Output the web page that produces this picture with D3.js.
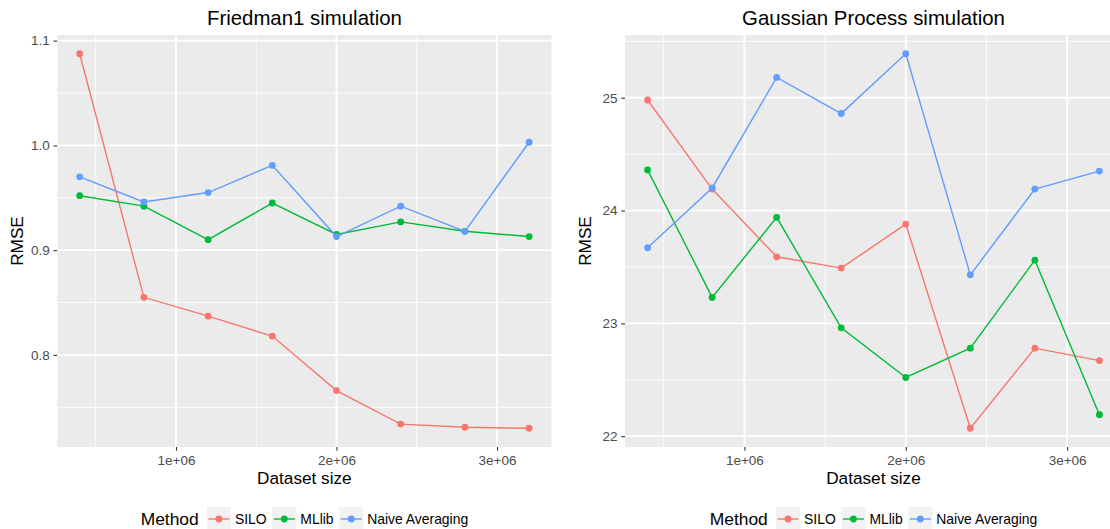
<!DOCTYPE html>
<html>
<head>
<meta charset="utf-8">
<script src="https://cdn.jsdelivr.net/npm/d3@7"></script>
<style>
  body { margin: 0; background: #fff; }
  svg { display: block; font-family: 'Liberation Sans', Arial, sans-serif; }
</style>
</head>
<body>
<div id="svg-container"></div>
<script>
const datasetSizes = [4e5, 8e5, 1.2e6, 1.6e6, 2e6, 2.4e6, 2.8e6, 3.2e6]
const methods = ['SILO', 'MLlib', 'Naive Averaging']
const methodColors = ['#F8766D', '#00BA38', '#619CFF']

const friedmanSilo = [1.0875, 0.855, 0.837, 0.818, 0.766, 0.734, 0.731, 0.730]
const friedmanMllib = [0.952, 0.942, 0.910, 0.945, 0.915, 0.927, 0.918, 0.913]
const friedmanNaive = [0.970, 0.946, 0.955, 0.981, 0.913, 0.942, 0.918, 1.003]

const gaussianSilo = [24.98, 24.19, 23.59, 23.49, 23.88, 22.07, 22.78, 22.67]
const gaussianMllib = [24.36, 23.23, 23.94, 22.96, 22.52, 22.78, 23.56, 22.19]
const gaussianNaive = [23.67, 24.20, 25.18, 24.86, 25.39, 23.43, 24.19, 24.35]

const xTicks = [1e6, 2e6, 3e6]
const friedmanTicks = [0.8, 0.9, 1.0, 1.1]
const gaussianTicks = [22, 23, 24, 25]

const svgWidth = 1110
const svgHeight = 529
const panelTop = 35
const panelBottom = 447

const fontTitle = '20.4px'
const fontAxisTitle = '17.2px'
const fontTick = '13.5px'
const fontLegendTitle = '17.4px'
const fontLegendText = '13.9px'

const svg = d3
  .select('#svg-container')
  .append('svg')
  .attr('width', svgWidth)
  .attr('height', svgHeight)

// ggplot style: expand continuous ranges by 5% on each side
const expand = ext => {
  const pad = (ext[1] - ext[0]) * 0.05
  return [ext[0] - pad, ext[1] + pad]
}

const midpoints = (ticks, domain) => {
  const step = ticks[1] - ticks[0]
  const out = []
  for (let v = ticks[0] - step / 2; v <= domain[1]; v += step) {
    if (v >= domain[0]) out.push(v)
  }
  return out
}

const drawPanel = ({ title, series, yTicks, yFormat, left, right }) => {
  const g = svg.append('g')
  const xScale = d3
    .scaleLinear()
    .domain(expand(d3.extent(datasetSizes)))
    .range([left, right])
  const yScale = d3
    .scaleLinear()
    .domain(expand(d3.extent(series.flat())))
    .range([panelBottom, panelTop])

  const clipId = `clip-${Math.round(left)}`
  g.append('clipPath')
    .attr('id', clipId)
    .append('rect')
    .attr('x', left)
    .attr('y', panelTop)
    .attr('width', right - left)
    .attr('height', panelBottom - panelTop)

  const plot = g.append('g').attr('clip-path', `url(#${clipId})`)
  plot
    .append('rect')
    .attr('x', left)
    .attr('y', panelTop)
    .attr('width', right - left)
    .attr('height', panelBottom - panelTop)
    .attr('fill', '#EBEBEB')

  // minor grid
  plot
    .selectAll('.minor-x')
    .data(midpoints(xTicks, xScale.domain()))
    .join('line')
    .attr('x1', d => xScale(d))
    .attr('x2', d => xScale(d))
    .attr('y1', panelTop)
    .attr('y2', panelBottom)
    .attr('stroke', '#fff')
    .attr('stroke-width', 0.9)
  plot
    .selectAll('.minor-y')
    .data(midpoints(yTicks, yScale.domain()))
    .join('line')
    .attr('y1', d => yScale(d))
    .attr('y2', d => yScale(d))
    .attr('x1', left)
    .attr('x2', right)
    .attr('stroke', '#fff')
    .attr('stroke-width', 0.9)

  // major grid
  plot
    .selectAll('.major-x')
    .data(xTicks)
    .join('line')
    .attr('x1', d => xScale(d))
    .attr('x2', d => xScale(d))
    .attr('y1', panelTop)
    .attr('y2', panelBottom)
    .attr('stroke', '#fff')
    .attr('stroke-width', 1.8)
  plot
    .selectAll('.major-y')
    .data(yTicks)
    .join('line')
    .attr('y1', d => yScale(d))
    .attr('y2', d => yScale(d))
    .attr('x1', left)
    .attr('x2', right)
    .attr('stroke', '#fff')
    .attr('stroke-width', 1.8)

  // axes
  const xAxis = g
    .append('g')
    .attr('transform', `translate(0, ${panelBottom})`)
    .call(
      d3
        .axisBottom(xScale)
        .tickValues(xTicks)
        .tickSize(3.7)
        .tickPadding(5)
        .tickFormat(d => `${d / 1e6}e+06`),
    )
  const yAxis = g
    .append('g')
    .attr('transform', `translate(${left}, 0)`)
    .call(
      d3
        .axisLeft(yScale)
        .tickValues(yTicks)
        .tickSize(3.7)
        .tickPadding(3.8)
        .tickFormat(yFormat),
    )
  ;[xAxis, yAxis].forEach(ax => {
    ax.select('.domain').remove()
    ax.selectAll('.tick line').attr('stroke', '#333').attr('stroke-width', 1.1)
    ax.selectAll('.tick text')
      .attr('fill', '#4D4D4D')
      .style('font-size', fontTick)
      .style('font-family', "'Liberation Sans', Arial, sans-serif")
  })

  // lines and points
  const line = d3
    .line()
    .x((d, i) => xScale(datasetSizes[i]))
    .y(d => yScale(d))
  series.forEach((values, k) => {
    plot
      .append('path')
      .attr('d', line(values))
      .attr('fill', 'none')
      .attr('stroke', methodColors[k])
      .attr('stroke-width', 1.4)
    plot
      .append('g')
      .selectAll('circle')
      .data(values)
      .join('circle')
      .attr('cx', (d, i) => xScale(datasetSizes[i]))
      .attr('cy', d => yScale(d))
      .attr('r', 3.4)
      .attr('fill', methodColors[k])
  })

  const centerX = (left + right) / 2

  g.append('text')
    .attr('x', centerX)
    .attr('y', 25)
    .attr('text-anchor', 'middle')
    .style('font-size', fontTitle)
    .text(title)

  g.append('text')
    .attr('x', centerX)
    .attr('y', 483.5)
    .attr('text-anchor', 'middle')
    .style('font-size', fontAxisTitle)
    .text('Dataset size')

  g.append('text')
    .attr('transform', `translate(${left - 34}, ${(panelTop + panelBottom) / 2}) rotate(-90)`)
    .attr('text-anchor', 'middle')
    .style('font-size', fontAxisTitle)
    .text('RMSE')

  // legend (sits at the very bottom edge, like the original)
  const legend = g.append('g')
  const legendY = 519
  const keySize = 24
  legend
    .append('text')
    .attr('x', 0)
    .attr('y', legendY + 5.8)
    .style('font-size', fontLegendTitle)
    .text('Method')
  let cursor = legend.select('text').node().getComputedTextLength() + 8.3
  methods.forEach((m, k) => {
    const key = legend
      .append('g')
      .attr('transform', `translate(${cursor}, ${legendY - keySize / 2})`)
    key
      .append('rect')
      .attr('width', keySize)
      .attr('height', keySize)
      .attr('fill', '#F2F2F2')
    key
      .append('line')
      .attr('x1', 1.5)
      .attr('x2', keySize - 1.5)
      .attr('y1', keySize / 2)
      .attr('y2', keySize / 2)
      .attr('stroke', methodColors[k])
      .attr('stroke-width', 1.4)
    key
      .append('circle')
      .attr('cx', keySize / 2)
      .attr('cy', keySize / 2)
      .attr('r', 3.4)
      .attr('fill', methodColors[k])
    cursor += keySize + 4
    const label = legend
      .append('text')
      .attr('x', cursor)
      .attr('y', legendY + 4.9)
      .style('font-size', fontLegendText)
      .text(m)
    cursor += label.node().getComputedTextLength() + 5.7
  })
  const legendWidth = cursor - 5.7
  legend.attr('transform', `translate(${centerX - legendWidth / 2}, 0)`)
}

drawPanel({
  title: 'Friedman1 simulation',
  series: [friedmanSilo, friedmanMllib, friedmanNaive],
  yTicks: friedmanTicks,
  yFormat: d3.format('.1f'),
  left: 57.2,
  right: 551.6,
})

drawPanel({
  title: 'Gaussian Process simulation',
  series: [gaussianSilo, gaussianMllib, gaussianNaive],
  yTicks: gaussianTicks,
  yFormat: d3.format('d'),
  left: 625,
  right: 1122,
})
</script>
</body>
</html>
